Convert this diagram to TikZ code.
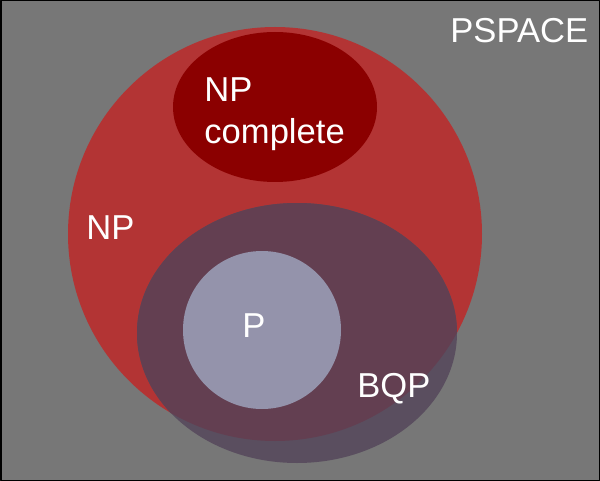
\documentclass[tikz,border=0pt]{standalone}
\usepackage{fontspec}
\setmainfont{Liberation Sans}
\usepackage{xcolor}
\definecolor{pspacegray}{RGB}{119,119,119}
\definecolor{npred}{RGB}{179,52,52}
\definecolor{npcdark}{RGB}{139,0,0}
\definecolor{bqpout}{RGB}{90,78,95}
\definecolor{bqpin}{RGB}{99,63,81}
\definecolor{ppale}{RGB}{148,147,171}
\tikzset{setlabel/.style={text=white,inner sep=0pt,font=\fontsize{17.3}{21}\selectfont}}

\begin{document}
\begin{tikzpicture}[line cap=round,line join=round,x=0.5pt,y=-0.5pt]
                \useasboundingbox (0,0) rectangle (600,481);
                \fill [pspacegray] (0,0) rectangle (600,481);
                \draw [line width=0.75pt,black] (0.75,0.75) rectangle (599.25,480.25);
                % NP and NP complete
                \fill [npred] (275,234) circle (207);
                \fill [npcdark] (275,107) ellipse (102 and 75);
                % BQP, darker where it lies on NP
                \fill [bqpout] (297,333) ellipse (160 and 130);
                \begin{scope}
                    \clip (275,234) circle (207);
                    \fill [bqpin] (297,333) ellipse (160 and 130);
                \end{scope}
                % P
                \fill [ppale] (262,330) circle (79);
                \node[setlabel,anchor=base west] (pspace) at (450,43) {PSPACE};
                \node[setlabel,anchor=base west] (np) at (86,240) {NP};
                \node[setlabel,anchor=north west,align=left] (npc) at (204,77) {NP\\complete};
                \node[setlabel,anchor=base west] (p) at (242,337) {P};
                \node[setlabel,anchor=base west] (bqp) at (357,397) {BQP};
            \end{tikzpicture}
\end{document}
